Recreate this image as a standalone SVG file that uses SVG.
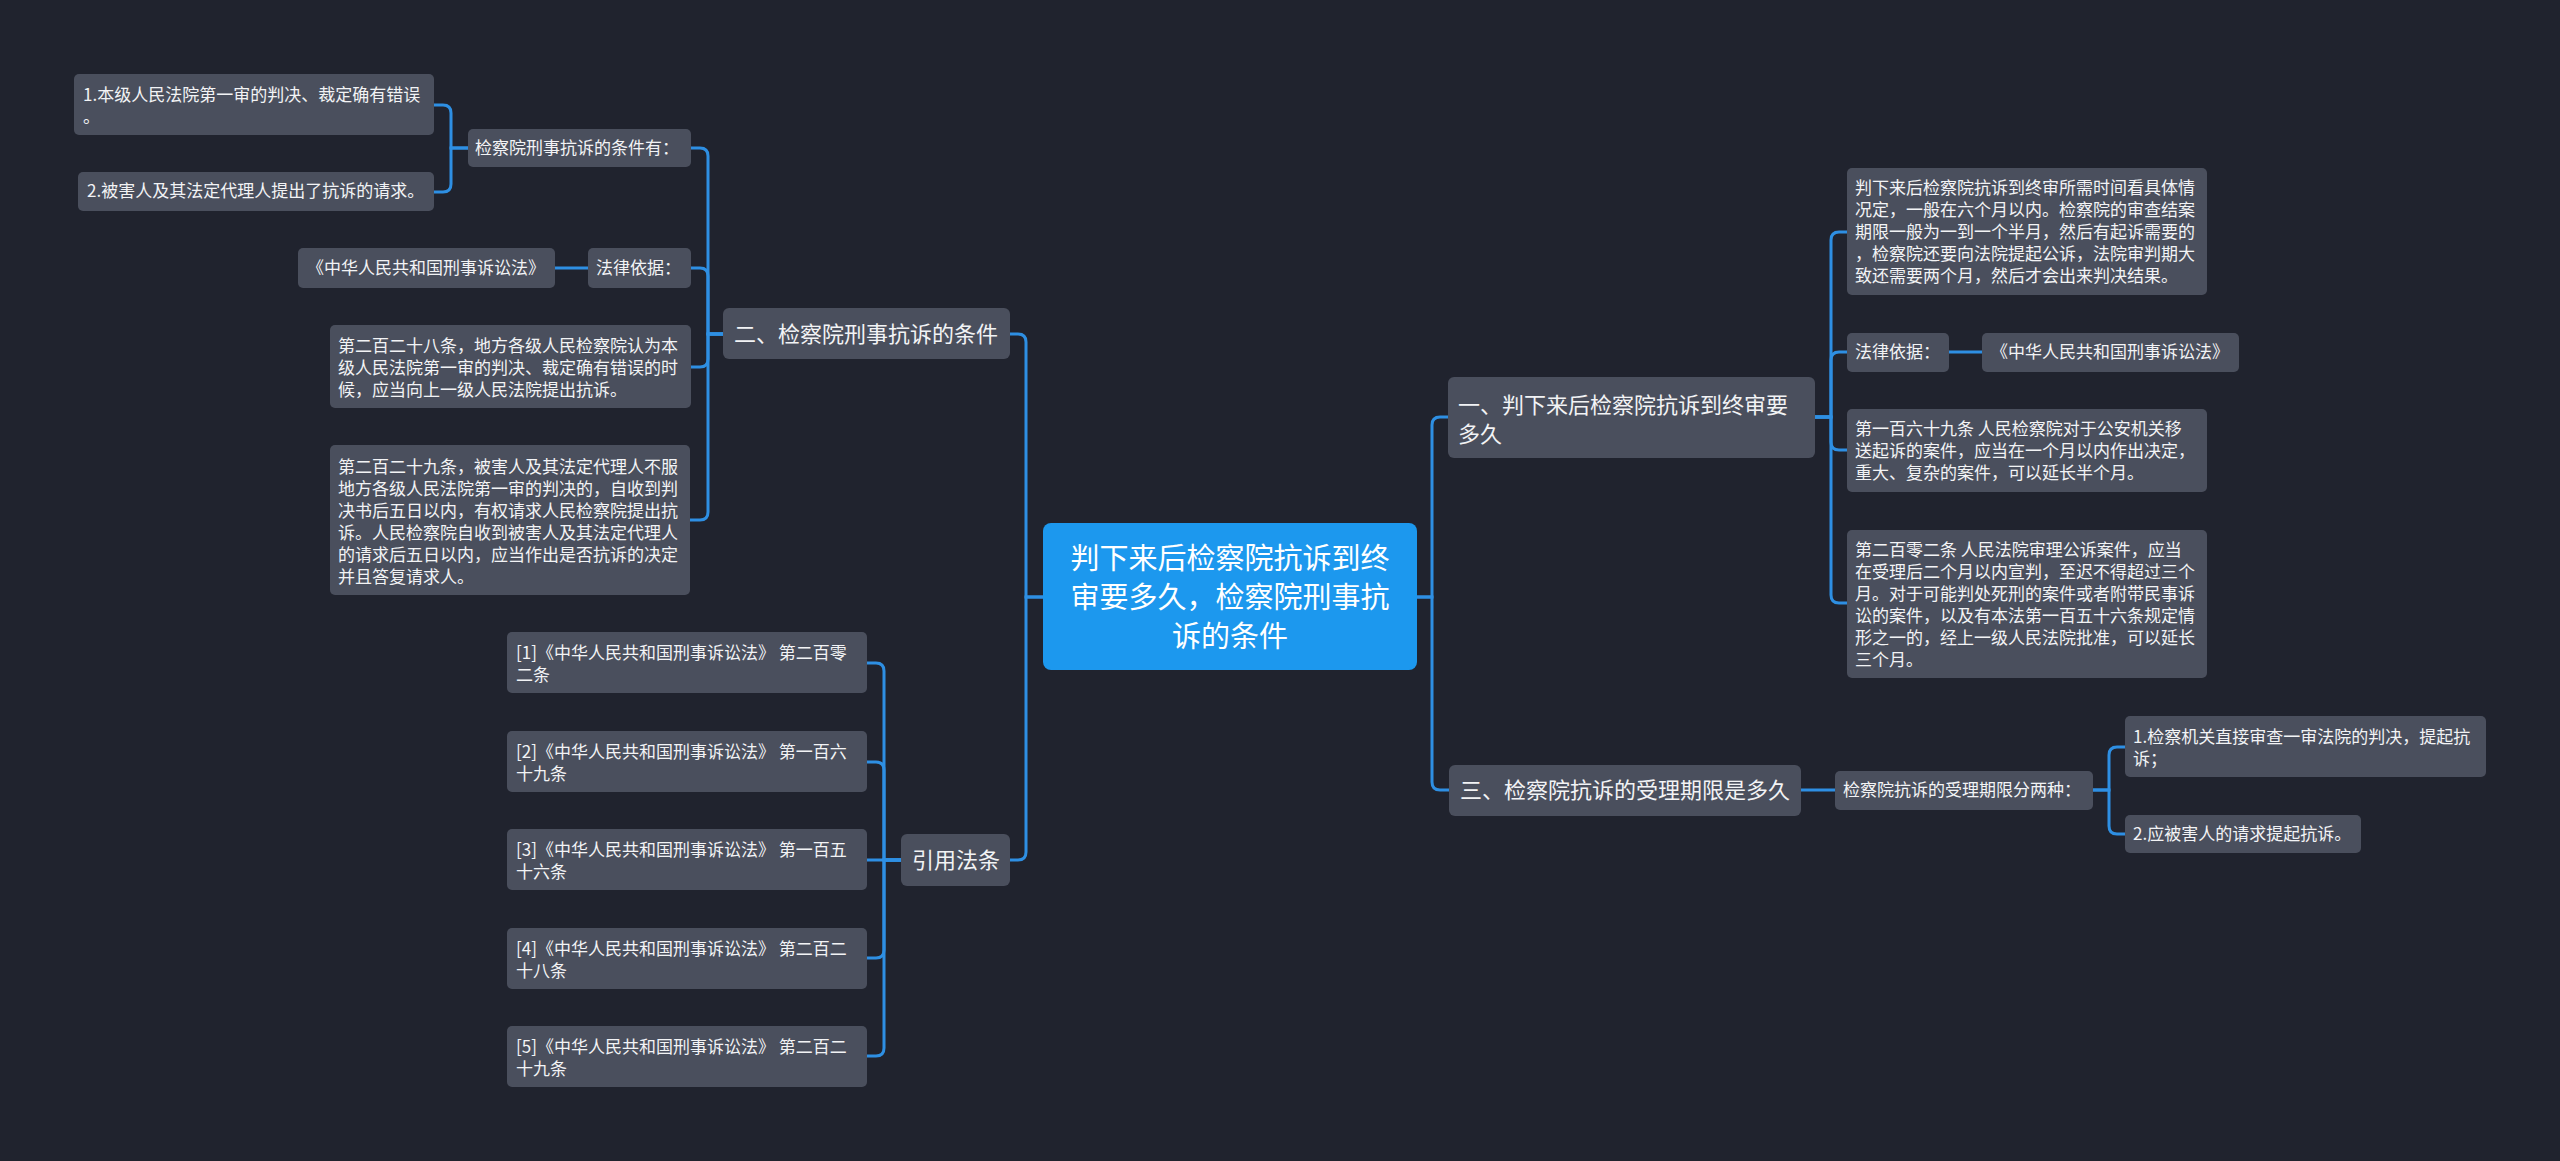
<svg xmlns="http://www.w3.org/2000/svg" width="2560" height="1161" viewBox="0 0 2560 1161">
<style>
.bg{fill:#20232e}
.n{fill:#4a4f5d}
.root{fill:#1c98ee}
.t{fill:#f2f3f5;font-family:"Noto Sans CJK SC","Noto Sans",sans-serif;font-size:17px}
.t1{fill:#f2f3f5;font-family:"Noto Sans CJK SC","Noto Sans",sans-serif;font-size:22px}
.tr{fill:#ffffff;font-family:"Noto Sans CJK SC","Noto Sans",sans-serif;font-size:29px;text-anchor:middle}
.c path{fill:none;stroke:#2e8fe3;stroke-width:3}
</style>
<rect class="bg" x="0" y="0" width="2560" height="1161"/>
<g class="c" id="connectors">
<path d="M1043,597 H1026 V342 Q1026,334 1018,334 H1010"/>
<path d="M1043,597 H1026 V852 Q1026,860 1018,860 H1010"/>
<path d="M1417,597 H1432 V425 Q1432,417 1440,417 H1448"/>
<path d="M1417,597 H1432 V782 Q1432,790 1440,790 H1449"/>
<path d="M723,334 H708 V156 Q708,148 700,148 H691"/>
<path d="M723,334 H708 V276 Q708,268 700,268 H691"/>
<path d="M723,334 H708 V359 Q708,367 700,367 H691"/>
<path d="M723,334 H708 V512 Q708,520 700,520 H690"/>
<path d="M468,148 H451 V113 Q451,105 443,105 H434"/>
<path d="M468,148 H451 V184 Q451,192 443,192 H434"/>
<path d="M588,268 H555"/>
<path d="M901,860 H884 V671 Q884,663 876,663 H867"/>
<path d="M901,860 H884 V770 Q884,762 876,762 H867"/>
<path d="M901,860 H867"/>
<path d="M901,860 H884 V950 Q884,958 876,958 H867"/>
<path d="M901,860 H884 V1048 Q884,1056 876,1056 H867"/>
<path d="M1815,417 H1831 V240 Q1831,232 1839,232 H1847"/>
<path d="M1815,417 H1831 V360 Q1831,352 1839,352 H1847"/>
<path d="M1815,417 H1831 V442 Q1831,450 1839,450 H1847"/>
<path d="M1815,417 H1831 V595 Q1831,603 1839,603 H1847"/>
<path d="M1949,352 H1982"/>
<path d="M1801,790 H1835"/>
<path d="M2093,790 H2109 V755 Q2109,747 2117,747 H2125"/>
<path d="M2093,790 H2109 V826 Q2109,834 2117,834 H2125"/>
</g>
<g id="root">
<rect class="root" x="1043" y="523" width="374" height="147" rx="8"/>
<text class="tr"><tspan x="1230" y="569">判下来后检察院抗诉到终</tspan><tspan x="1230" y="608">审要多久，检察院刑事抗</tspan><tspan x="1230" y="647">诉的条件</tspan></text>
</g>
<g id="n2">
<rect class="n" x="723" y="308" width="287" height="51" rx="6"/>
<text class="t1" x="734" y="342">二、检察院刑事抗诉的条件</text>
</g>
<g id="nref">
<rect class="n" x="901" y="834" width="109" height="52" rx="6"/>
<text class="t1" x="912" y="868">引用法条</text>
</g>
<g id="n1">
<rect class="n" x="1448" y="377" width="367" height="81" rx="6"/>
<text class="t1"><tspan x="1458" y="413">一、判下来后检察院抗诉到终审要</tspan><tspan x="1458" y="442">多久</tspan></text>
</g>
<g id="n3">
<rect class="n" x="1449" y="765" width="352" height="51" rx="6"/>
<text class="t1" x="1460" y="798">三、检察院抗诉的受理期限是多久</text>
</g>
<g id="a1">
<rect class="n" x="468" y="129" width="223" height="38" rx="5"/>
<text class="t" x="475" y="154">检察院刑事抗诉的条件有：</text>
</g>
<g id="a1a">
<rect class="n" x="74" y="74" width="360" height="61" rx="5"/>
<text class="t"><tspan x="83" y="101">1.本级人民法院第一审的判决、裁定确有错误</tspan><tspan x="83" y="123">。</tspan></text>
</g>
<g id="a1b">
<rect class="n" x="78" y="172" width="356" height="39" rx="5"/>
<text class="t" x="87" y="197">2.被害人及其法定代理人提出了抗诉的请求。</text>
</g>
<g id="a2">
<rect class="n" x="588" y="248" width="103" height="40" rx="5"/>
<text class="t" x="596" y="274">法律依据：</text>
</g>
<g id="a2a">
<rect class="n" x="298" y="248" width="257" height="40" rx="5"/>
<text class="t" x="307" y="274">《中华人民共和国刑事诉讼法》</text>
</g>
<g id="a3">
<rect class="n" x="330" y="325" width="361" height="83" rx="5"/>
<text class="t"><tspan x="338" y="352">第二百二十八条，地方各级人民检察院认为本</tspan><tspan x="338" y="374">级人民法院第一审的判决、裁定确有错误的时</tspan><tspan x="338" y="396">候，应当向上一级人民法院提出抗诉。</tspan></text>
</g>
<g id="a4">
<rect class="n" x="330" y="445" width="360" height="150" rx="5"/>
<text class="t"><tspan x="338" y="473">第二百二十九条，被害人及其法定代理人不服</tspan><tspan x="338" y="495">地方各级人民法院第一审的判决的，自收到判</tspan><tspan x="338" y="517">决书后五日以内，有权请求人民检察院提出抗</tspan><tspan x="338" y="539">诉。人民检察院自收到被害人及其法定代理人</tspan><tspan x="338" y="561">的请求后五日以内，应当作出是否抗诉的决定</tspan><tspan x="338" y="583">并且答复请求人。</tspan></text>
</g>
<g id="r1">
<rect class="n" x="507" y="632" width="360" height="61" rx="5"/>
<text class="t"><tspan x="516" y="659">[1]《中华人民共和国刑事诉讼法》 第二百零</tspan><tspan x="516" y="681">二条</tspan></text>
</g>
<g id="r2">
<rect class="n" x="507" y="731" width="360" height="61" rx="5"/>
<text class="t"><tspan x="516" y="758">[2]《中华人民共和国刑事诉讼法》 第一百六</tspan><tspan x="516" y="780">十九条</tspan></text>
</g>
<g id="r3">
<rect class="n" x="507" y="829" width="360" height="61" rx="5"/>
<text class="t"><tspan x="516" y="856">[3]《中华人民共和国刑事诉讼法》 第一百五</tspan><tspan x="516" y="878">十六条</tspan></text>
</g>
<g id="r4">
<rect class="n" x="507" y="928" width="360" height="61" rx="5"/>
<text class="t"><tspan x="516" y="955">[4]《中华人民共和国刑事诉讼法》 第二百二</tspan><tspan x="516" y="977">十八条</tspan></text>
</g>
<g id="r5">
<rect class="n" x="507" y="1026" width="360" height="61" rx="5"/>
<text class="t"><tspan x="516" y="1053">[5]《中华人民共和国刑事诉讼法》 第二百二</tspan><tspan x="516" y="1075">十九条</tspan></text>
</g>
<g id="b1">
<rect class="n" x="1847" y="168" width="360" height="127" rx="5"/>
<text class="t"><tspan x="1855" y="194">判下来后检察院抗诉到终审所需时间看具体情</tspan><tspan x="1855" y="216">况定，一般在六个月以内。检察院的审查结案</tspan><tspan x="1855" y="238">期限一般为一到一个半月，然后有起诉需要的</tspan><tspan x="1855" y="260">，检察院还要向法院提起公诉，法院审判期大</tspan><tspan x="1855" y="282">致还需要两个月，然后才会出来判决结果。</tspan></text>
</g>
<g id="b2">
<rect class="n" x="1847" y="333" width="102" height="39" rx="5"/>
<text class="t" x="1855" y="358">法律依据：</text>
</g>
<g id="b2a">
<rect class="n" x="1982" y="333" width="257" height="39" rx="5"/>
<text class="t" x="1991" y="358">《中华人民共和国刑事诉讼法》</text>
</g>
<g id="b3">
<rect class="n" x="1847" y="409" width="360" height="83" rx="5"/>
<text class="t"><tspan x="1855" y="435">第一百六十九条 人民检察院对于公安机关移</tspan><tspan x="1855" y="457">送起诉的案件，应当在一个月以内作出决定，</tspan><tspan x="1855" y="479">重大、复杂的案件，可以延长半个月。</tspan></text>
</g>
<g id="b4">
<rect class="n" x="1847" y="530" width="360" height="148" rx="5"/>
<text class="t"><tspan x="1855" y="556">第二百零二条 人民法院审理公诉案件，应当</tspan><tspan x="1855" y="578">在受理后二个月以内宣判，至迟不得超过三个</tspan><tspan x="1855" y="600">月。对于可能判处死刑的案件或者附带民事诉</tspan><tspan x="1855" y="622">讼的案件，以及有本法第一百五十六条规定情</tspan><tspan x="1855" y="644">形之一的，经上一级人民法院批准，可以延长</tspan><tspan x="1855" y="666">三个月。</tspan></text>
</g>
<g id="c1">
<rect class="n" x="1835" y="771" width="258" height="39" rx="5"/>
<text class="t" x="1843" y="796">检察院抗诉的受理期限分两种：</text>
</g>
<g id="c1a">
<rect class="n" x="2125" y="716" width="361" height="61" rx="5"/>
<text class="t"><tspan x="2133" y="743">1.检察机关直接审查一审法院的判决，提起抗</tspan><tspan x="2133" y="765">诉；</tspan></text>
</g>
<g id="c1b">
<rect class="n" x="2125" y="815" width="236" height="38" rx="5"/>
<text class="t" x="2133" y="840">2.应被害人的请求提起抗诉。</text>
</g>
</svg>
